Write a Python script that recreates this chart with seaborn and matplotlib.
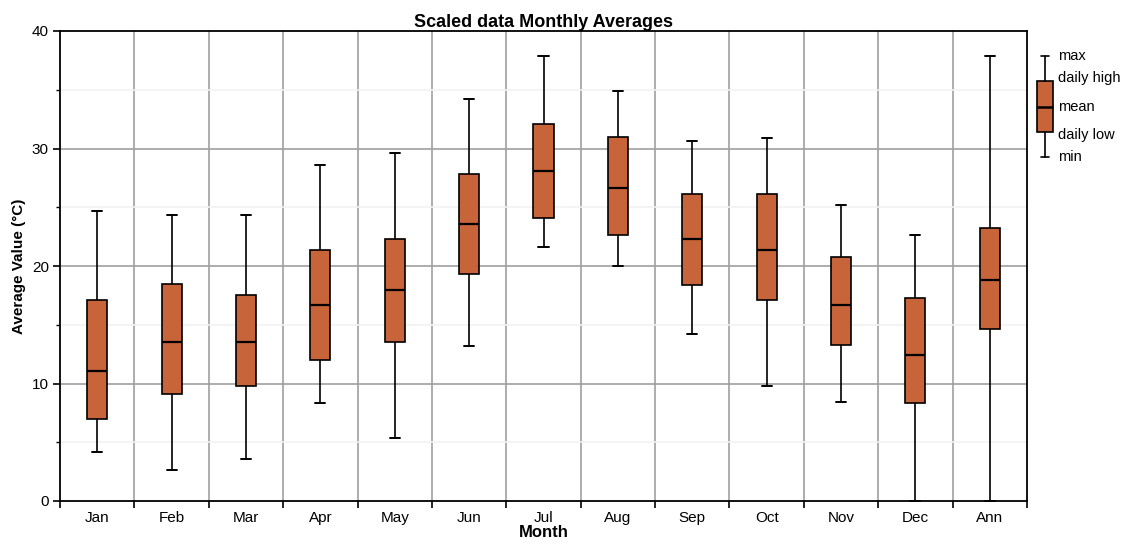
import numpy as np
import pandas as pd
import matplotlib
matplotlib.use("Agg")
import matplotlib.pyplot as plt
from matplotlib.ticker import MultipleLocator, FixedLocator
import seaborn as sns

# Monthly values
months = ['Jan', 'Feb', 'Mar', 'Apr', 'May', 'Jun', 'Jul', 'Aug', 'Sep', 'Oct', 'Nov', 'Dec', 'Ann']
max_vals = [24.7, 24.3, 24.3, 28.6, 29.6, 34.2, 37.9, 34.9, 30.6, 30.9, 25.2, 22.6, 37.9]
daily_high = [17.1, 18.5, 17.5, 21.4, 22.3, 27.8, 32.1, 31.0, 26.1, 26.1, 20.8, 17.3, 23.2]
mean_vals = [11.1, 13.5, 13.5, 16.7, 18.0, 23.6, 28.1, 26.6, 22.3, 21.4, 16.7, 12.4, 18.8]
daily_low = [7.0, 9.1, 9.8, 12.0, 13.5, 19.3, 24.1, 22.6, 18.4, 17.1, 13.3, 8.3, 14.6]
min_vals = [4.2, 2.6, 3.6, 8.3, 5.4, 13.2, 21.6, 20.0, 14.2, 9.8, 8.4, 0.0, 0.0]

legend_labels = ['max', 'daily high', 'mean', 'daily low', 'min']

box_color = '#c8643a'

# five points per month -> quartiles land exactly on low/mean/high
rows = []
for i, m in enumerate(months):
    for v in (min_vals[i], daily_low[i], mean_vals[i], daily_high[i], max_vals[i]):
        rows.append({'Month': m, 'value': v})
df = pd.DataFrame(rows)

sns.set_style('white')
plt.rcParams['font.family'] = ['Liberation Sans', 'DejaVu Sans']
plt.rcParams['text.color'] = 'black'
plt.rcParams['axes.labelcolor'] = 'black'
plt.rcParams['xtick.color'] = 'black'
plt.rcParams['ytick.color'] = 'black'

fig = plt.figure(figsize=(11.37, 5.44), dpi=100)
ax = fig.add_axes([60 / 1137, 1 - 501 / 544, (1027 - 60) / 1137, (501 - 31) / 544])

line_kw = dict(color='black', linewidth=1.2)
sns.boxplot(data=df, x='Month', y='value', order=months, whis=(0, 100),
            width=0.27, color=box_color, saturation=1, linecolor='black',
            linewidth=1.2, showfliers=False, ax=ax,
            boxprops=dict(facecolor=box_color, edgecolor='black'),
            medianprops=dict(color='black', linewidth=1.6),
            whiskerprops=line_kw, capprops=dict(color='black', linewidth=1.4, clip_on=False),
            zorder=3)

ax.set_xlim(-0.5, len(months) - 0.5)
ax.set_ylim(0, 40)

# grid: vertical at category boundaries, horizontal at majors, faint minors
bounds = np.arange(-0.5, len(months) + 0.5, 1)
ax.xaxis.set_minor_locator(FixedLocator(bounds))
ax.yaxis.set_major_locator(MultipleLocator(10))
ax.yaxis.set_minor_locator(MultipleLocator(5))
ax.grid(False)
for b in bounds[1:-1]:
    ax.axvline(b, color='#a0a0a0', linewidth=1.2, zorder=1)
for yv in [10, 20, 30]:
    ax.axhline(yv, color='#a0a0a0', linewidth=1.2, zorder=1)
for yv in [5, 15, 25, 35]:
    ax.axhline(yv, color='#f2f2f2', linewidth=1.2, zorder=1)

ax.tick_params(bottom=True, left=True, which='both')
ax.tick_params(axis='x', which='major', length=0, labelsize=11, pad=7)
ax.tick_params(axis='x', which='minor', length=5, width=1.2, direction='out', color='black')
ax.tick_params(axis='y', which='major', length=5, width=1.2, direction='out', labelsize=11,
               color='black', pad=3)
ax.tick_params(axis='y', which='minor', length=3, width=1, direction='out', color='black')
for s in ax.spines.values():
    s.set_visible(True)
    s.set_color('black')
    s.set_linewidth(1.3)
    s.set_zorder(5)

ax.set_title('Scaled data Monthly Averages', fontsize=13, fontweight='bold', pad=3)
ax.set_xlabel('Month', fontsize=12, fontweight='bold', labelpad=0)
ax.set_ylabel('Average Value (°C)', fontsize=11, fontweight='bold', labelpad=4)

# legend key: a single sample box with labels
lax = fig.add_axes([1033 / 1137, 1 - 160 / 544, 24 / 1137, (160 - 53) / 544])
stats = [dict(whislo=0, q1=1, med=2, q3=3, whishi=4)]
lax.bxp(stats, showfliers=False, widths=0.7, patch_artist=True,
        boxprops=dict(facecolor=box_color, edgecolor='black', linewidth=1.2),
        medianprops=dict(color='black', linewidth=1.8),
        whiskerprops=line_kw, capprops=dict(color='black', linewidth=1.2))
lax.set_ylim(-0.1, 4.1)
lax.set_xlim(0.5, 1.5)
lax.axis('off')
# label positions along the key
for yv, lab in zip([4, 3.1, 2, 0.9, 0], legend_labels):
    lax.text(1.55, yv, lab, fontsize=10.5, va='center', ha='left')

fig.savefig('out.png', dpi=100)
